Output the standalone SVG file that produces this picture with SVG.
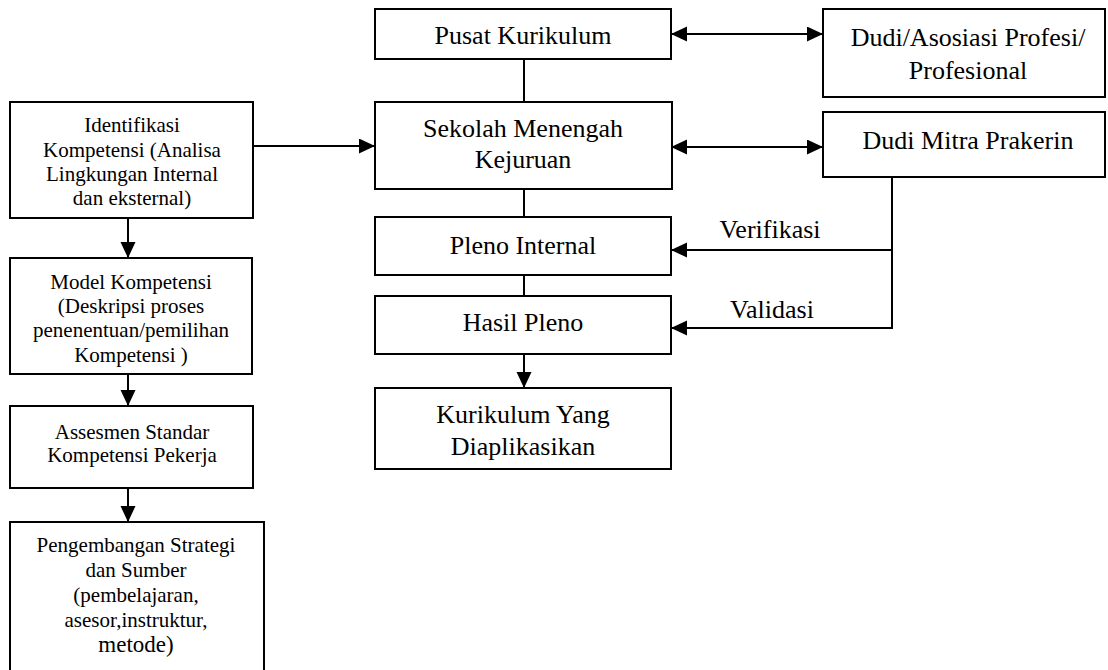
<svg xmlns="http://www.w3.org/2000/svg" width="1108" height="670" viewBox="0 0 1108 670">
<style>
.box{fill:#fff;stroke:#000;stroke-width:2}
.ln{fill:none;stroke:#000;stroke-width:2}
text{font-family:"Liberation Serif","Times New Roman",serif;fill:#000;text-anchor:middle}
.s{font-size:21px}
.b{font-size:26px}
</style>
<defs>
<marker id="ah" markerUnits="userSpaceOnUse" markerWidth="18" markerHeight="16" refX="16" refY="7.5" orient="auto-start-reverse">
<path d="M0,0 L16,7.5 L0,15 Z" fill="#000"/>
</marker>
</defs>
<rect width="1108" height="670" fill="#fff"/>
<g id="connectors">
<line class="ln" x1="128" y1="218" x2="128" y2="258" marker-end="url(#ah)"/>
<line class="ln" x1="128" y1="374" x2="128" y2="406" marker-end="url(#ah)"/>
<line class="ln" x1="128" y1="488" x2="128" y2="522" marker-end="url(#ah)"/>
<line class="ln" x1="253" y1="146" x2="375" y2="146" marker-end="url(#ah)"/>
<line class="ln" x1="671" y1="34" x2="823" y2="34" marker-start="url(#ah)" marker-end="url(#ah)"/>
<line class="ln" x1="671" y1="147" x2="823" y2="147" marker-start="url(#ah)" marker-end="url(#ah)"/>
<line class="ln" x1="524" y1="59" x2="524" y2="102"/>
<line class="ln" x1="524" y1="189" x2="524" y2="217"/>
<line class="ln" x1="524" y1="275" x2="524" y2="296"/>
<line class="ln" x1="524" y1="354" x2="524" y2="388" marker-end="url(#ah)"/>
<polyline class="ln" points="892,177 892,328 671,328" marker-end="url(#ah)"/>
<line class="ln" x1="892" y1="250" x2="671" y2="250" marker-end="url(#ah)"/>
<text class="b" x="770" y="238">Verifikasi</text>
<text class="b" x="772" y="318">Validasi</text>
</g>
<g id="identifikasi">
<rect class="box" x="10" y="102" width="243" height="116"/>
<text class="s" x="132" y="132">Identifikasi</text>
<text class="s" x="132" y="157">Kompetensi (Analisa</text>
<text class="s" x="132" y="181">Lingkungan Internal</text>
<text class="s" x="132" y="205">dan eksternal)</text>
</g>
<g id="model">
<rect class="box" x="10" y="258" width="242" height="116"/>
<text class="s" x="131" y="289">Model Kompetensi</text>
<text class="s" x="131" y="313">(Deskripsi proses</text>
<text class="s" x="131" y="337">penenentuan/pemilihan</text>
<text class="s" x="131" y="362">Kompetensi )</text>
</g>
<g id="assesmen">
<rect class="box" x="10" y="406" width="243" height="82"/>
<text class="s" x="132" y="439">Assesmen Standar</text>
<text class="s" x="132" y="462">Kompetensi Pekerja</text>
</g>
<g id="pengembangan">
<rect class="box" x="10" y="522" width="254" height="155"/>
<text class="s" x="136" y="552">Pengembangan Strategi</text>
<text class="s" x="136" y="577">dan Sumber</text>
<text class="s" x="136" y="602">(pembelajaran,</text>
<text class="s" x="136" y="627">asesor,instruktur,</text>
<text class="s" x="136" y="652" style="font-size:23px">metode)</text>
</g>
<g id="pusat">
<rect class="box" x="375" y="9" width="296" height="50"/>
<text class="b" x="523" y="44">Pusat Kurikulum</text>
</g>
<g id="sekolah">
<rect class="box" x="375" y="102" width="297" height="87"/>
<text class="b" x="523" y="137">Sekolah Menengah</text>
<text class="b" x="523" y="168">Kejuruan</text>
</g>
<g id="pleno">
<rect class="box" x="375" y="217" width="296" height="58"/>
<text class="b" x="523" y="254">Pleno Internal</text>
</g>
<g id="hasil">
<rect class="box" x="375" y="296" width="296" height="58"/>
<text class="b" x="523" y="331">Hasil Pleno</text>
</g>
<g id="kurikulum">
<rect class="box" x="375" y="388" width="296" height="81"/>
<text class="b" x="523" y="423">Kurikulum Yang</text>
<text class="b" x="523" y="455">Diaplikasikan</text>
</g>
<g id="dudi-asosiasi">
<rect class="box" x="823" y="9" width="282" height="88"/>
<text class="b" x="968" y="46">Dudi/Asosiasi Profesi/</text>
<text class="b" x="968" y="79">Profesional</text>
</g>
<g id="dudi-mitra">
<rect class="box" x="823" y="112" width="282" height="65"/>
<text class="b" x="968" y="149">Dudi Mitra Prakerin</text>
</g>
</svg>
